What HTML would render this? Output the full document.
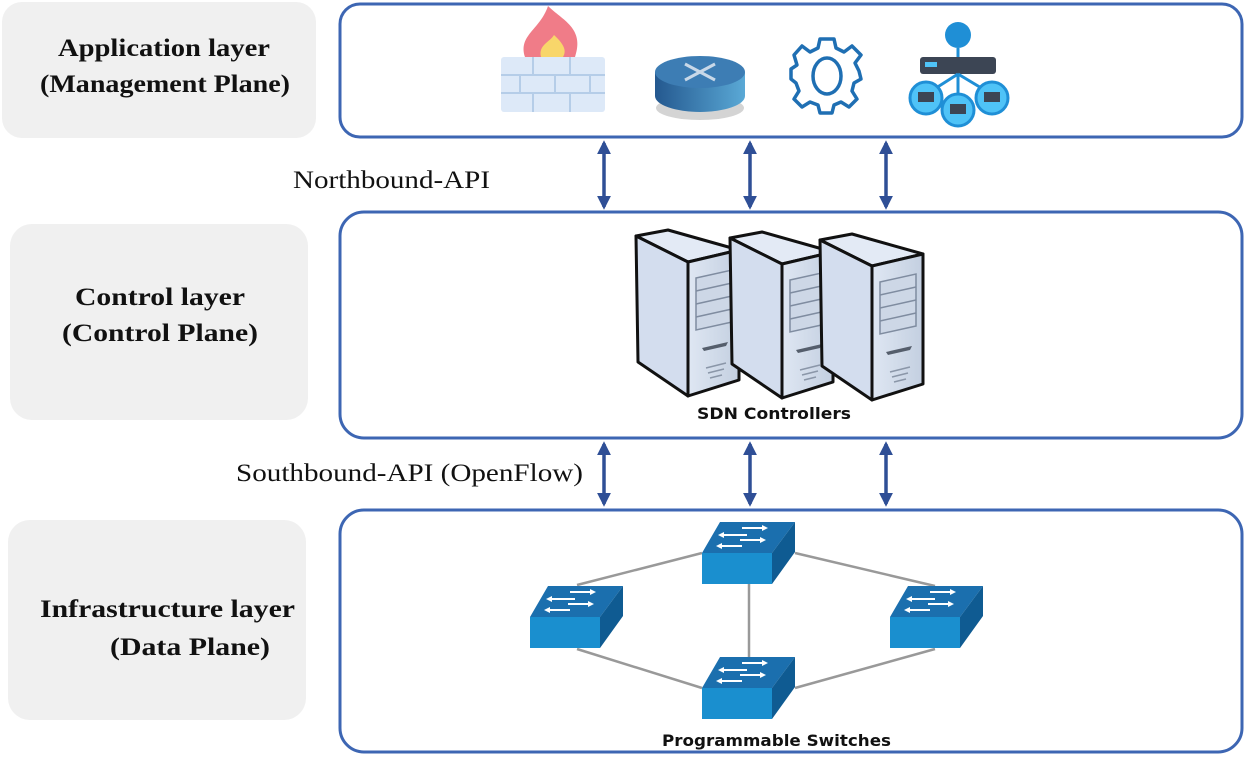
<!DOCTYPE html>
<html><head><meta charset="utf-8"><style>
body{margin:0;background:#fff;}
svg{display:block}
.lbl{font-family:"Liberation Serif",serif;font-weight:bold;font-size:25px;fill:#111}
.api{font-family:"Liberation Serif",serif;font-size:25px;fill:#111}
.cap{font-family:"DejaVu Sans","Liberation Sans",sans-serif;font-weight:bold;font-size:16px;fill:#111}
</style></head><body>
<svg width="1250" height="762" viewBox="0 0 1250 762" xmlns="http://www.w3.org/2000/svg">
<defs>
<marker id="ah" viewBox="0 0 10 10" refX="8" refY="5" markerWidth="4" markerHeight="4" orient="auto-start-reverse"><path d="M0,0 L10,5 L0,10 z" fill="#2f4f96"/></marker>
<linearGradient id="sv" x1="0" x2="1"><stop offset="0" stop-color="#dfe7f3"/><stop offset="1" stop-color="#c3cfe0"/></linearGradient>
<linearGradient id="rt" x1="0" x2="1"><stop offset="0" stop-color="#24588f"/><stop offset="1" stop-color="#5aa9d6"/></linearGradient>
<g id="srv">
<path d="M0,6 L32,0 L103,20 L52,32 Z" fill="#e3eaf5" stroke="#111" stroke-width="3" stroke-linejoin="round"/>
<path d="M0,6 L52,32 L52,166 L2,132 Z" fill="#d3ddee" stroke="#111" stroke-width="3" stroke-linejoin="round"/>
<path d="M52,32 L103,20 L103,150 L52,166 Z" fill="url(#sv)" stroke="#111" stroke-width="3" stroke-linejoin="round"/>
<path d="M60,48 L96,40 L96,92 L60,100 Z" fill="#cdd7e6" stroke="#7f8ca0" stroke-width="1.5"/>
<path d="M60,61 L96,53 M60,74 L96,66 M60,87 L96,79" stroke="#7f8ca0" stroke-width="1.5"/>
<path d="M66,118 L92,112 L90,116 L68,121 Z" fill="#555e6c"/>
<path d="M70,138 L90,133 M72,143 L88,139 M74,148 L86,145" stroke="#8a96a8" stroke-width="1.5"/>
</g>
<g id="sw">
<path d="M0,0 L18,-31 L93,-31 L70,0 Z" fill="#1b6fae"/>
<path d="M0,0 L70,0 L70,31 L0,31 Z" fill="#1a8fcf"/>
<path d="M70,0 L93,-31 L93,-1 L70,31 Z" fill="#0f5b92"/>
<path d="M40,-25 L60,-25 M22,-18 L45,-18 M38,-13 L58,-13 M20,-7 L40,-7" stroke="#fff" stroke-width="2"/>
<path d="M60,-28 L66,-25 L60,-22 Z M22,-21 L16,-18 L22,-15 Z M58,-16 L64,-13 L58,-10 Z M20,-10 L14,-7 L20,-4 Z" fill="#fff"/>
</g>
</defs>
<rect x="2" y="2" width="314" height="136" rx="20" fill="#f0f0f0"/>
<rect x="10" y="224" width="298" height="196" rx="22" fill="#f0f0f0"/>
<rect x="8" y="520" width="298" height="200" rx="22" fill="#f0f0f0"/>
<text class="lbl" x="58" y="56" textLength="212" lengthAdjust="spacingAndGlyphs">Application layer</text>
<text class="lbl" x="40" y="92" textLength="250" lengthAdjust="spacingAndGlyphs">(Management Plane)</text>
<text class="lbl" x="75" y="305" textLength="170" lengthAdjust="spacingAndGlyphs">Control layer</text>
<text class="lbl" x="62" y="341" textLength="196" lengthAdjust="spacingAndGlyphs">(Control Plane)</text>
<text class="lbl" x="40" y="617" textLength="255" lengthAdjust="spacingAndGlyphs">Infrastructure layer</text>
<text class="lbl" x="110" y="655" textLength="160" lengthAdjust="spacingAndGlyphs">(Data Plane)</text>
<rect x="340" y="4" width="902" height="133" rx="20" fill="#fff" stroke="#3d66b3" stroke-width="3"/>
<rect x="340" y="212" width="902" height="226" rx="24" fill="#fff" stroke="#3d66b3" stroke-width="3"/>
<rect x="340" y="510" width="902" height="242" rx="24" fill="#fff" stroke="#3d66b3" stroke-width="3"/>
<g stroke="#2f4f96" stroke-width="3.5" marker-start="url(#ah)" marker-end="url(#ah)">
<line x1="604" y1="143" x2="604" y2="207"/><line x1="750" y1="143" x2="750" y2="207"/><line x1="886" y1="143" x2="886" y2="207"/>
<line x1="604" y1="444" x2="604" y2="504"/><line x1="750" y1="444" x2="750" y2="504"/><line x1="886" y1="444" x2="886" y2="504"/>
</g>
<text class="api" x="293" y="188" textLength="197" lengthAdjust="spacingAndGlyphs">Northbound-API</text>
<text class="api" x="236" y="481" textLength="347" lengthAdjust="spacingAndGlyphs">Southbound-API (OpenFlow)</text>
<path d="M525,57 C518,35 540,30 548,6 C562,20 585,28 575,57 Z" fill="#f07c88"/>
<path d="M541,57 C538,45 550,42 554,35 C566,46 566,52 563,57 Z" fill="#f8d66a"/>
<rect x="501" y="57" width="104" height="55" rx="3" fill="#dde9f8"/>
<g stroke="#b5cde8" stroke-width="2"><line x1="501" y1="75" x2="605" y2="75"/><line x1="501" y1="93" x2="605" y2="93"/><line x1="533" y1="57" x2="533" y2="75"/><line x1="570" y1="57" x2="570" y2="75"/><line x1="520" y1="75" x2="520" y2="93"/><line x1="555" y1="75" x2="555" y2="93"/><line x1="590" y1="75" x2="590" y2="93"/><line x1="533" y1="93" x2="533" y2="112"/><line x1="570" y1="93" x2="570" y2="112"/></g>
<ellipse cx="700" cy="108" rx="44" ry="12" fill="#aaa" opacity="0.5"/>
<path d="M655,72 L655,96 A45,16 0 0 0 745,96 L745,72 Z" fill="url(#rt)"/>
<ellipse cx="700" cy="72" rx="45" ry="16" fill="#3d7db4"/>
<g stroke="#c8d8e8" stroke-width="3"><line x1="685" y1="64" x2="715" y2="80"/><line x1="715" y1="64" x2="685" y2="80"/></g>
<g transform="translate(827,73)" fill="none" stroke="#1f6fb3" stroke-width="3.5">
<path d="M-7,-34 L7,-34 L9,-25 L17,-21 L25,-27 L34,-18 L28,-10 L32,-2 L34,6 L27,10 L25,18 L30,26 L22,34 L14,29 L7,32 L5,40 L-7,40 L-9,32 L-17,29 L-25,34 L-33,26 L-28,18 L-31,10 L-36,6 L-36,-4 L-30,-8 L-33,-18 L-25,-27 L-17,-21 L-9,-25 Z" stroke-linejoin="round"/>
<ellipse cx="0" cy="3" rx="14" ry="18"/></g>
<circle cx="958" cy="35" r="13" fill="#1f8fd6"/><line x1="958" y1="48" x2="958" y2="58" stroke="#1f8fd6" stroke-width="3"/>
<rect x="920" y="57" width="76" height="17" rx="3" fill="#3c4554"/>
<rect x="925" y="62" width="12" height="5" fill="#4fc3f7"/>
<g stroke="#1f8fd6" stroke-width="3"><line x1="958" y1="74" x2="925" y2="95"/><line x1="958" y1="74" x2="958" y2="105"/><line x1="958" y1="74" x2="993" y2="95"/></g>
<circle cx="926" cy="98" r="16" fill="#4fc3f7" stroke="#1f8fd6" stroke-width="3"/>
<circle cx="958" cy="110" r="16" fill="#4fc3f7" stroke="#1f8fd6" stroke-width="3"/>
<circle cx="992" cy="98" r="16" fill="#4fc3f7" stroke="#1f8fd6" stroke-width="3"/>
<g fill="#3c4554"><rect x="918" y="92" width="16" height="10"/><rect x="950" y="104" width="16" height="10"/><rect x="984" y="92" width="16" height="10"/></g>
<use href="#srv" x="636" y="230"/>
<use href="#srv" x="730" y="232"/>
<use href="#srv" x="820" y="234"/>
<text class="cap" x="697" y="419" textLength="154" lengthAdjust="spacingAndGlyphs">SDN Controllers</text>
<g stroke="#999" stroke-width="2.5">
<line x1="577" y1="585" x2="702" y2="553"/><line x1="795" y1="553" x2="935" y2="586"/>
<line x1="749" y1="584" x2="749" y2="657"/><line x1="577" y1="649" x2="702" y2="688"/><line x1="795" y1="688" x2="935" y2="649"/>
</g>
<use href="#sw" x="702" y="553"/>
<use href="#sw" x="530" y="617"/>
<use href="#sw" x="890" y="617"/>
<use href="#sw" x="702" y="688"/>
<text class="cap" x="662" y="746" textLength="229" lengthAdjust="spacingAndGlyphs">Programmable Switches</text>
</svg>
</body></html>
